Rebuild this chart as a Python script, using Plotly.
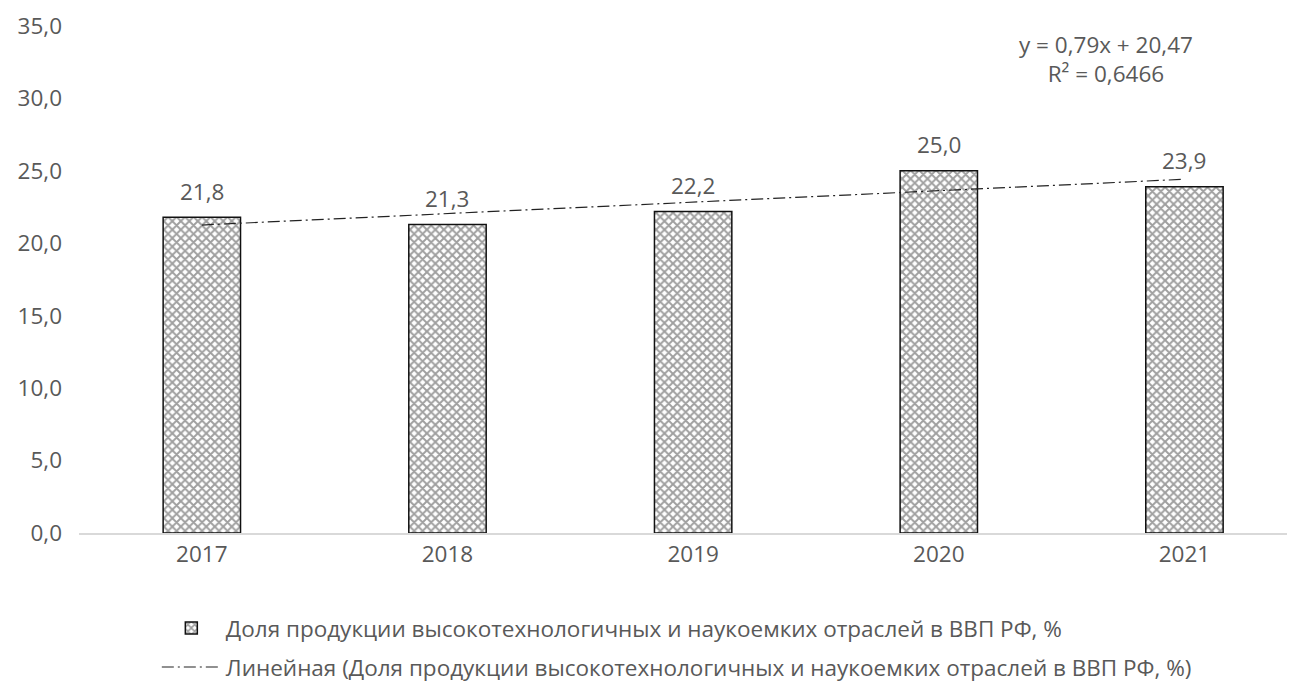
import plotly.graph_objects as go

years = ["2017", "2018", "2019", "2020", "2021"]
share = [21.8, 21.3, 22.2, 25.0, 23.9]
labels = ["21,8", "21,3", "22,2", "25,0", "23,9"]
trend = [21.26, 22.05, 22.84, 23.63, 24.42]
y_ticks = [0, 5, 10, 15, 20, 25, 30, 35]
y_tick_text = ["0,0", "5,0", "10,0", "15,0", "20,0", "25,0", "30,0", "35,0"]
bar_name = "Доля продукции высокотехнологичных и наукоемких отраслей в ВВП РФ, %"
trend_name = "Линейная (Доля продукции высокотехнологичных и наукоемких отраслей в ВВП РФ, %)"
equation = "y = 0,79x + 20,47<br>R² = 0,6466"

FONT = "Open Sans"
GRAY = "#595959"
FS = 22.5

fig = go.Figure()
fig.add_trace(go.Bar(
    x=years, y=share, name=bar_name, width=0.315,
    marker=dict(color="white", line=dict(color="#111111", width=1.5),
                pattern=dict(shape="x", size=6, solidity=0.55,
                             fgcolor="#3f3f3f", bgcolor="white")),
    legend="legend",
))
fig.add_trace(go.Scatter(
    x=years, y=trend, name=trend_name, mode="lines",
    line=dict(color="#222222", width=1.2, dash="12px,4px,2px,4px"),
    legend="legend2",
))

for i, (v, t) in enumerate(zip(share, labels)):
    fig.add_annotation(x=i, y=v, xref="x", yref="y", text=t, showarrow=False,
                       yshift=26, font=dict(family=FONT, size=FS, color=GRAY))

fig.add_annotation(x=4, y=32.72, xref="x", yref="y", text=equation,
                   showarrow=False, xshift=-78, yanchor="middle",
                   font=dict(family=FONT, size=FS, color=GRAY), align="center")

fig.update_layout(
    width=1287, height=676,
    margin=dict(l=71, r=0, t=18, b=151, autoexpand=False),
    paper_bgcolor="white", plot_bgcolor="white",
    font=dict(family=FONT, size=FS, color=GRAY),
    bargap=0.68,
    legend=dict(x=0.064, y=-0.188, xanchor="left", yanchor="middle",
                font=dict(family=FONT, size=FS, color=GRAY),
                bgcolor="rgba(0,0,0,0)", itemwidth=59),
    legend2=dict(x=0.064, y=-0.265, xanchor="left", yanchor="middle",
                 font=dict(family=FONT, size=FS, color=GRAY),
                 bgcolor="rgba(0,0,0,0)", itemwidth=59),
    showlegend=True,
)
fig.update_xaxes(type="category", range=[-0.5, 4.45], showgrid=False,
                 showline=True, automargin=False,
                 linecolor="#d9d9d9", linewidth=1.5, ticks="",
                 tickfont=dict(family=FONT, size=FS, color=GRAY))
fig.update_yaxes(range=[0, 35], tickvals=y_ticks, ticktext=y_tick_text,
                 showgrid=False, zeroline=False, showline=False, ticks="",
                 automargin=False, ticklabelstandoff=16,
                 tickfont=dict(family=FONT, size=FS, color=GRAY))

fig.write_html("out.html")
